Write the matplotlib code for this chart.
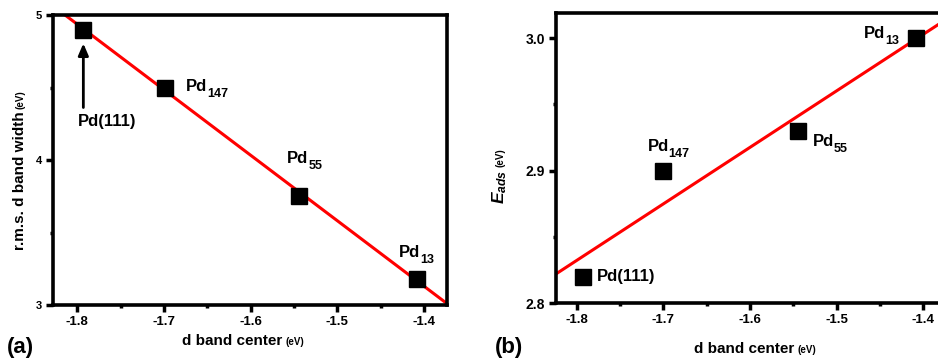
import numpy as np
import matplotlib
matplotlib.use("Agg")
from matplotlib import pyplot as plt

plt.rcParams["font.family"] = ["Liberation Sans", "DejaVu Sans"]
plt.rcParams["font.weight"] = "bold"
plt.rcParams["mathtext.fontset"] = "custom"
plt.rcParams["mathtext.rm"] = "Liberation Sans:bold"
plt.rcParams["mathtext.bf"] = "Liberation Sans:bold"
plt.rcParams["mathtext.it"] = "Liberation Sans:bold:italic"

# data
cluster_names = ["Pd(111)", "Pd", "Pd", "Pd"]
cluster_subs = ["", "147", "55", "13"]
d_center_a = [-1.793, -1.699, -1.544, -1.408]
rms_width = [4.90, 4.50, 3.75, 3.18]
d_center_b = [-1.793, -1.700, -1.545, -1.409]
e_ads = [2.82, 2.90, 2.93, 3.00]
x_ticks = [-1.8, -1.7, -1.6, -1.5, -1.4]

W, H = 938, 362
fig = plt.figure(figsize=(W / 100, H / 100), dpi=100)


def style_axes(ax, ylim, yticks, yminor, yfmt, yfs):
    ax.set_xlim(-1.828, -1.3735)
    ax.set_ylim(*ylim)
    ax.set_xticks(x_ticks)
    ax.set_xticks([-1.75, -1.65, -1.55, -1.45], minor=True)
    ax.set_xticklabels([f"{t:.1f}" for t in x_ticks], fontsize=9.5, fontweight="bold")
    ax.set_yticks(yticks)
    ax.set_yticks(yminor, minor=True)
    ax.set_yticklabels([yfmt.format(t) for t in yticks], fontsize=yfs, fontweight="bold")
    for s in ax.spines.values():
        s.set_linewidth(2.6)
    ax.tick_params(which="major", direction="out", length=5, width=2.5, pad=3)
    ax.tick_params(which="minor", direction="out", length=2.5, width=2.5)


def scatter_fit(ax, x, y):
    ax.plot(x, y, "s", color="black", markersize=11, zorder=3)
    k, b = np.polyfit(x, y, 1)
    xs = np.array(ax.get_xlim())
    ax.plot(xs, k * xs + b, color="red", linewidth=2.2, zorder=2)


def label_points(ax, xs, ys, offsets, first_ha):
    """Pd labels, subscripts drawn as their own smaller text (lowered)."""
    for i, name in enumerate(cluster_names):
        if not cluster_subs[i]:
            ax.annotate(name, (xs[i], ys[i]), xytext=offsets[i],
                        textcoords="offset pixels", ha=first_ha, va="center",
                        fontsize=12, fontweight="bold")
            continue
        main = ax.annotate(name, (xs[i], ys[i]), xytext=offsets[i],
                           textcoords="offset pixels", ha="left", va="baseline",
                           fontsize=12, fontweight="bold")
        ax.annotate(cluster_subs[i], (1, 0), xycoords=main, xytext=(0, -3),
                    textcoords="offset pixels", ha="left", va="baseline",
                    fontsize=9, fontweight="bold")


def px(x, y):
    return x / W, 1 - y / H


# ---- panel (a)
ax1 = fig.add_axes([53 / W, 1 - 305 / H, 394 / W, 290 / H])
style_axes(ax1, (3, 5), [3, 4, 5], [3.5, 4.5], "{:d}", 8)
scatter_fit(ax1, d_center_a, rms_width)
label_points(ax1, d_center_a, rms_width,
             [(24, -92), (21, -3.7), (-12, 33.5), (-18, 21.5)], "center")
ax1.annotate("", (d_center_a[0], rms_width[0]), xytext=(0, -78),
             textcoords="offset pixels",
             arrowprops=dict(arrowstyle="-|>,head_length=0.7,head_width=0.3",
                             color="black", lw=2, shrinkA=0, shrinkB=10))

# ---- panel (b), right edge runs off the picture like the original
ax2 = fig.add_axes([556 / W, 1 - 303 / H, 389 / W, 290 / H])
style_axes(ax2, (2.8, 3.0189), [2.8, 2.9, 3.0], [2.85, 2.95], "{:.1f}", 10)
ax2.set_xlim(-1.824, -1.375)
scatter_fit(ax2, d_center_b, e_ads)
label_points(ax2, d_center_b, e_ads,
             [(14, 0), (-16, 19.5), (15, -15), (-52, 0.5)], "left")

# ---- axis titles with the small "(eV)" unit
t1 = fig.text(*px(182, 345), "d band center", fontsize=11, fontweight="bold",
              ha="left", va="baseline")
t2 = fig.text(*px(694, 353), "d band center", fontsize=11, fontweight="bold",
              ha="left", va="baseline")
t3 = fig.text(*px(20, 181), "r.m.s. d band width", fontsize=11, fontweight="bold",
              rotation=90, ha="center", va="center")
t4 = fig.text(*px(500, 187), "$E_{ads}$", fontsize=12.5, rotation=90,
              ha="center", va="center")
fig.text(*px(7, 348), "(a)", fontsize=16, fontweight="bold", va="center")
fig.text(*px(495, 348), "(b)", fontsize=16, fontweight="bold", va="center")

fig.canvas.draw()
r = fig.canvas.get_renderer()
for t in (t1, t2):
    e = t.get_window_extent(r)
    fig.text((e.x1 + 3) / W, t.get_position()[1], "(eV)", fontsize=7,
             fontweight="bold", ha="left", va="baseline")
for t in (t3, t4):
    e = t.get_window_extent(r)
    fig.text(t.get_position()[0], (e.y1 + 3) / H, "(eV)", fontsize=7,
             fontweight="bold", rotation=90, ha="center", va="bottom")

fig.savefig("out.png", dpi=100)
